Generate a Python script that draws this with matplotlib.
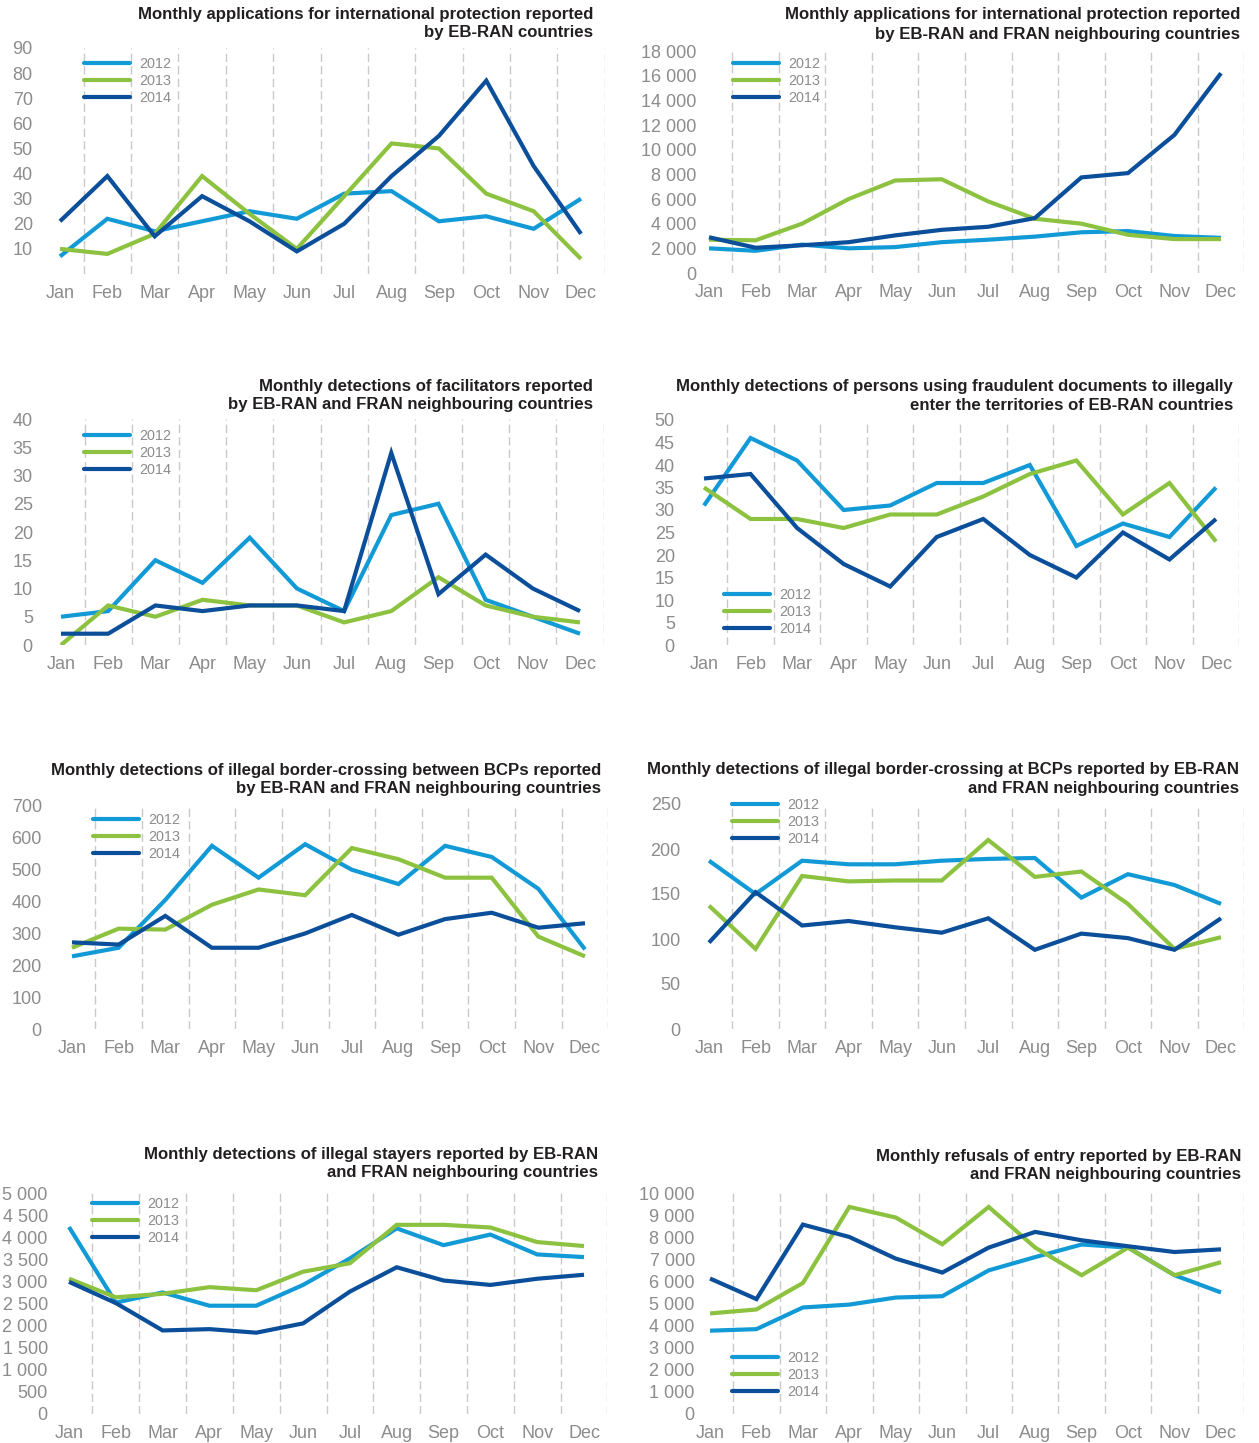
import numpy as np
import matplotlib
matplotlib.use('Agg')
import matplotlib.pyplot as plt
from matplotlib.ticker import FixedLocator, FuncFormatter

plt.rcParams['font.family'] = ['Liberation Sans', 'DejaVu Sans']

months = ['Jan', 'Feb', 'Mar', 'Apr', 'May', 'Jun', 'Jul', 'Aug', 'Sep', 'Oct', 'Nov', 'Dec']
years = ['2012', '2013', '2014']

# 1. Applications for international protection, EB-RAN
asy_eb_2012 = [7, 22, 17, 21, 25, 22, 32, 33, 21, 23, 18, 30]
asy_eb_2013 = [10, 8, 16, 39, 24, 10, 31, 52, 50, 32, 25, 6]
asy_eb_2014 = [21, 39, 15, 31, 21, 9, 20, 39, 55, 77, 43, 16]

# 2. Applications for international protection, EB-RAN + FRAN neighbours
asy_all_2012 = [2000, 1800, 2300, 2000, 2100, 2500, 2700, 2950, 3300, 3400, 3000, 2850]
asy_all_2013 = [2700, 2650, 4000, 6000, 7500, 7600, 5800, 4400, 4000, 3100, 2750, 2750]
asy_all_2014 = [2900, 2050, 2250, 2500, 3050, 3500, 3750, 4450, 7750, 8100, 11200, 16200]

# 3. Facilitators
fac_2012 = [5, 6, 15, 11, 19, 10, 6, 23, 25, 8, 5, 2]
fac_2013 = [0, 7, 5, 8, 7, 7, 4, 6, 12, 7, 5, 4]
fac_2014 = [2, 2, 7, 6, 7, 7, 6, 34, 9, 16, 10, 6]

# 4. Fraudulent documents
doc_2012 = [31, 46, 41, 30, 31, 36, 36, 40, 22, 27, 24, 35]
doc_2013 = [35, 28, 28, 26, 29, 29, 33, 38, 41, 29, 36, 23]
doc_2014 = [37, 38, 26, 18, 13, 24, 28, 20, 15, 25, 19, 28]

# 5. Illegal border-crossing between BCPs
ibc_2012 = [228, 255, 405, 575, 475, 580, 500, 455, 575, 540, 440, 250]
ibc_2013 = [255, 315, 312, 390, 438, 420, 568, 533, 475, 475, 290, 228]
ibc_2014 = [272, 265, 355, 255, 255, 300, 358, 296, 345, 365, 318, 332]

# 6. Illegal border-crossing at BCPs
bcp_2012 = [187, 150, 187, 183, 183, 187, 189, 190, 146, 172, 160, 139]
bcp_2013 = [137, 89, 170, 164, 165, 165, 210, 169, 175, 139, 89, 102]
bcp_2014 = [96, 152, 115, 120, 113, 107, 123, 88, 106, 101, 88, 123]

# 7. Illegal stayers
stay_2012 = [4230, 2520, 2750, 2450, 2450, 2920, 3520, 4200, 3820, 4060, 3610, 3550]
stay_2013 = [3060, 2640, 2720, 2870, 2800, 3220, 3410, 4280, 4280, 4220, 3890, 3800]
stay_2014 = [2990, 2510, 1890, 1920, 1840, 2050, 2770, 3320, 3020, 2920, 3060, 3150]

# 8. Refusals of entry
ref_2012 = [3770, 3840, 4820, 4950, 5270, 5330, 6500, 7100, 7670, 7530, 6280, 5500]
ref_2013 = [4550, 4730, 5930, 9370, 8890, 7680, 9370, 7530, 6280, 7530, 6280, 6870]
ref_2014 = [6130, 5200, 8570, 8010, 7030, 6400, 7530, 8240, 7860, 7590, 7330, 7450]

titles = [
    ("Monthly applications for international protection reported", "by EB-RAN countries"),
    ("Monthly applications for international protection reported", "by EB-RAN and FRAN neighbouring countries"),
    ("Monthly detections of facilitators reported", "by EB-RAN and FRAN neighbouring countries"),
    ("Monthly detections of persons using fraudulent documents to illegally", "enter the territories of EB-RAN countries"),
    ("Monthly detections of illegal border-crossing between BCPs reported", "by EB-RAN and FRAN neighbouring countries"),
    ("Monthly detections of illegal border-crossing at BCPs reported by EB-RAN", "and FRAN neighbouring countries"),
    ("Monthly detections of illegal stayers reported by EB-RAN", "and FRAN neighbouring countries"),
    ("Monthly refusals of entry reported by EB-RAN", "and FRAN neighbouring countries"),
]

series = [
    (asy_eb_2012, asy_eb_2013, asy_eb_2014),
    (asy_all_2012, asy_all_2013, asy_all_2014),
    (fac_2012, fac_2013, fac_2014),
    (doc_2012, doc_2013, doc_2014),
    (ibc_2012, ibc_2013, ibc_2014),
    (bcp_2012, bcp_2013, bcp_2014),
    (stay_2012, stay_2013, stay_2014),
    (ref_2012, ref_2013, ref_2014),
]

yticks = [
    np.arange(10, 91, 10),
    np.arange(0, 18001, 2000),
    np.arange(0, 41, 5),
    np.arange(0, 51, 5),
    np.arange(0, 701, 100),
    np.arange(0, 251, 50),
    np.arange(0, 5001, 500),
    np.arange(0, 10001, 1000),
]
ymax = [90, 18000, 40, 50, 700, 250, 5000, 10000]

# layout in pixels: label_right, x_jan, x_dec, y_bottom, y_top, title_right, title_y1, title_y2, legend_x, legend_y
layout = [
    (33, 60, 581, 274, 48, 593, 15, 33, 84, 63),
    (697, 709, 1221, 273, 51, 1240, 15, 34, 733, 63),
    (33, 61, 580, 645, 419, 593, 386, 404, 84, 435),
    (675, 704, 1216, 645, 420, 1233, 386, 405, 724, 594),
    (42, 72, 585, 1029, 806, 601, 771, 789, 93, 819),
    (681, 709, 1221, 1029, 804, 1239, 770, 789, 732, 804),
    (48, 69, 584, 1414, 1193, 598, 1155, 1173, 92, 1203),
    (695, 710, 1221, 1414, 1193, 1241, 1157, 1175, 732, 1357),
]

colors = ['#129ad7', '#8cc23f', '#0b4f9b']
tick_color = '#8c8c8c'
title_color = '#231f20'

W, H = 1259, 1443
DPI = 100
fig = plt.figure(figsize=(W / DPI, H / DPI), dpi=DPI)
fig.patch.set_facecolor('white')

def fx(x):
    return x / W

def fy(y):
    return 1 - y / H

def fmt(v, pos):
    return f"{v:,.0f}".replace(',', ' ')

tick_fs = 13
legend_fs = 10.4
title_fs = 12.1

for i in range(8):
    lab_r, xj, xd, yb, yt, tr, ty1, ty2, lx, ly = layout[i]
    dx = (xd - xj) / 11.0
    ax_left = lab_r + 4
    ax_right = xd + dx / 2
    ax = fig.add_axes([fx(ax_left), fy(yb), (ax_right - ax_left) / W, (yb - yt) / H])
    ax.set_xlim(-(xj - ax_left) / dx, 11.5)
    ax.set_ylim(0, ymax[i])
    for s in ax.spines.values():
        s.set_visible(False)
    x = np.arange(12)
    handles = []
    for k in range(3):
        ln, = ax.plot(x, series[i][k], color=colors[k], lw=3.0, label=years[k],
                      solid_capstyle='butt', solid_joinstyle='miter', zorder=3 + k)
        handles.append(ln)
    ax.xaxis.set_major_locator(FixedLocator(x))
    ax.set_xticklabels(months)
    ax.xaxis.set_minor_locator(FixedLocator(np.arange(0.5, 12, 1)))
    ax.grid(which='minor', axis='x', color='#c9c9c9', lw=1.0, linestyle=(0, (6, 3)))
    ax.yaxis.set_major_locator(FixedLocator(yticks[i]))
    ax.yaxis.set_major_formatter(FuncFormatter(fmt))
    ax.tick_params(axis='both', which='both', length=0, labelsize=tick_fs, labelcolor=tick_color)
    ax.tick_params(axis='y', pad=3)
    ax.tick_params(axis='x', pad=8)

    # legend
    fs_px = legend_fs * DPI / 72.0
    leg = ax.legend(handles=handles, loc='upper left',
                    bbox_to_anchor=(fx(lx), fy(ly - 6.0)), bbox_transform=fig.transFigure,
                    frameon=False, fontsize=legend_fs, handlelength=46 / fs_px,
                    handletextpad=9 / fs_px, labelspacing=0.2, borderpad=0, borderaxespad=0)
    for t in leg.get_texts():
        t.set_color(tick_color)
    for h in leg.legend_handles:
        h.set_solid_capstyle('round')

    fig.text(fx(tr), fy(ty1), titles[i][0], ha='right', va='center', fontsize=title_fs,
             fontweight='bold', color=title_color)
    fig.text(fx(tr), fy(ty2), titles[i][1], ha='right', va='center', fontsize=title_fs,
             fontweight='bold', color=title_color)

fig.savefig('out.png', dpi=DPI, facecolor='white')
